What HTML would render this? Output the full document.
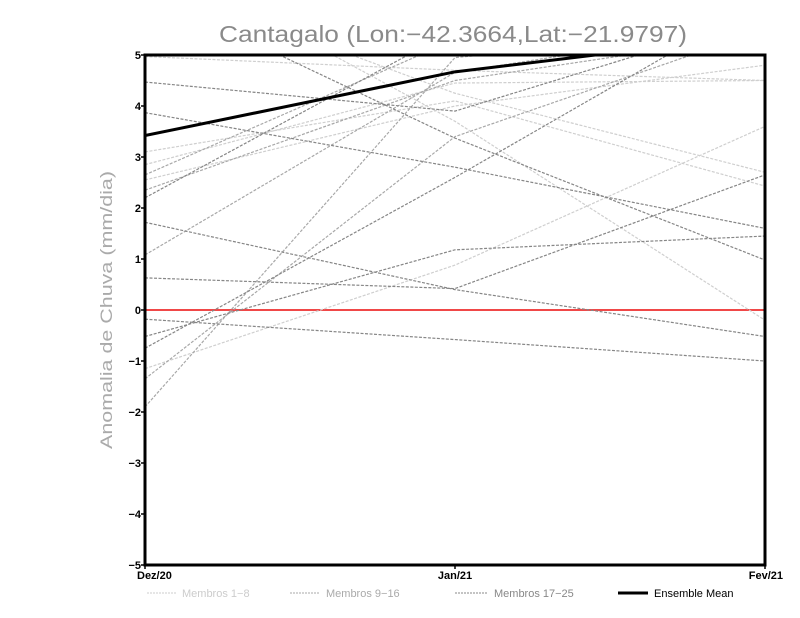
<!DOCTYPE html>
<html><head><meta charset="utf-8"><style>
body{margin:0;background:#fff;}
svg{display:block;font-family:"Liberation Sans",sans-serif;}
</style></head><body>
<svg id="chart" width="800" height="618" viewBox="0 0 800 618" xmlns="http://www.w3.org/2000/svg">
<rect width="800" height="618" fill="#fff"/>
<text x="453" y="42" text-anchor="middle" font-size="23" fill="#8a8a8a" textLength="468" lengthAdjust="spacingAndGlyphs">Cantagalo (Lon:−42.3664,Lat:−21.9797)</text>
<text transform="translate(112,310) rotate(-90)" text-anchor="middle" font-size="17" fill="#aaa" textLength="278" lengthAdjust="spacingAndGlyphs">Anomalia de Chuva (mm/dia)</text>
<defs><clipPath id="plotclip"><rect x="145" y="55" width="620" height="510"/></clipPath></defs>
<g id="series" clip-path="url(#plotclip)"></g>
<g id="axes"></g>
<g id="legend">
<line x1="147" y1="593" x2="176" y2="593" stroke="#ccc" stroke-dasharray="2,1"/>
<text x="182" y="597" font-size="11" fill="#ccc">Membros 1−8</text>
<line x1="290" y1="593" x2="320" y2="593" stroke="#aaa" stroke-dasharray="2,1"/>
<text x="326" y="597" font-size="11" fill="#aaa">Membros 9−16</text>
<line x1="455" y1="593" x2="488" y2="593" stroke="#888" stroke-dasharray="2,1"/>
<text x="494" y="597" font-size="11" fill="#888">Membros 17−25</text>
<line x1="618" y1="593" x2="648" y2="593" stroke="#000" stroke-width="3"/>
<text x="654" y="597" font-size="11" fill="#000">Ensemble Mean</text>
</g>
</svg>
<script>
const categories = ["Dez/20","Jan/21","Fev/21"];
const yTicks = [-5,-4,-3,-2,-1,0,1,2,3,4,5];
const membros1to8 = [
  [4.97,4.70,4.50],
  [3.10,4.10,2.43],
  [2.85,4.45,4.50],
  [2.55,4.00,4.80],
  [7.00,3.70,-0.20],
  [-1.15,0.88,3.60],
  [6.50,4.25,2.70]
];
const membros9to16 = [
  [2.65,5.30,5.60],
  [2.35,4.50,5.40],
  [1.08,4.66,5.60],
  [-1.35,3.40,5.50],
  [-1.90,4.95,5.50]
];
const membros17to25 = [
  [4.47,3.90,5.76],
  [3.87,2.80,1.60],
  [6.25,3.37,0.98],
  [2.20,5.50,6.00],
  [1.72,0.40,-0.52],
  [0.63,0.42,2.65],
  [-0.18,-0.58,-1.00],
  [-0.52,1.18,1.45],
  [-0.75,2.60,6.10]
];
const ensembleMean = [3.42,4.67,5.40];

const X0=145,X1=765,Y0=565,Y1=55;
const xs = i => X0 + (X1-X0)*i/(categories.length-1);
const ys = v => Y0 - (v+5)/10*(Y0-Y1);
const NS="http://www.w3.org/2000/svg";
const series=document.getElementById('series');
const axes=document.getElementById('axes');
function mk(tag,attrs,parent){const e=document.createElementNS(NS,tag);for(const k in attrs)e.setAttribute(k,attrs[k]);parent.appendChild(e);return e;}
function pts(arr){return arr.map((v,i)=>xs(i)+','+ys(v)).join(' ');}
function group(data,color,name){
  data.forEach((d,j)=>{
    const p=mk('polyline',{points:pts(d),fill:'none',stroke:color,'stroke-width':1.2,'stroke-dasharray':'3,1.5'},series);
    
    
  });
}
const z=mk('line',{x1:X0,x2:X1,y1:ys(0),y2:ys(0),stroke:'#f04848','stroke-width':2},series);


group(membros1to8,'#cfcfcf','membros-1-8-line');
group(membros9to16,'#a8a8a8','membros-9-16-line');
group(membros17to25,'#868686','membros-17-25-line');
const m=mk('polyline',{points:pts(ensembleMean),fill:'none',stroke:'#000','stroke-width':3},series);


const f=mk('rect',{x:X0,y:Y1,width:X1-X0,height:Y0-Y1,fill:'none',stroke:'#000','stroke-width':3},axes);


yTicks.forEach(t=>{
  const y=ys(t);
  mk('line',{x1:X0-4,x2:X0,y1:y,y2:y,stroke:'#000','stroke-width':1.5},axes);
  const tx=mk('text',{x:X0-4,y:y+4,'text-anchor':'end','font-size':11,'font-weight':'bold',fill:'#000'},axes);
  tx.textContent=(t<0?'−'+(-t):t);
  
  
});
categories.forEach((c,i)=>{
  const x=xs(i);
  mk('line',{x1:x,x2:x,y1:Y0,y2:Y0+4,stroke:'#000','stroke-width':1.5},axes);
  const a=i===0?'start':(i===categories.length-1?'end':'middle');
  const tx=mk('text',{x:i===0?X0-8:(i===categories.length-1?X1+18:x),y:Y0+14,'text-anchor':a,'font-size':11,'font-weight':'bold',fill:'#000'},axes);
  tx.textContent=c;
  
  
});
</script>
</body></html>
